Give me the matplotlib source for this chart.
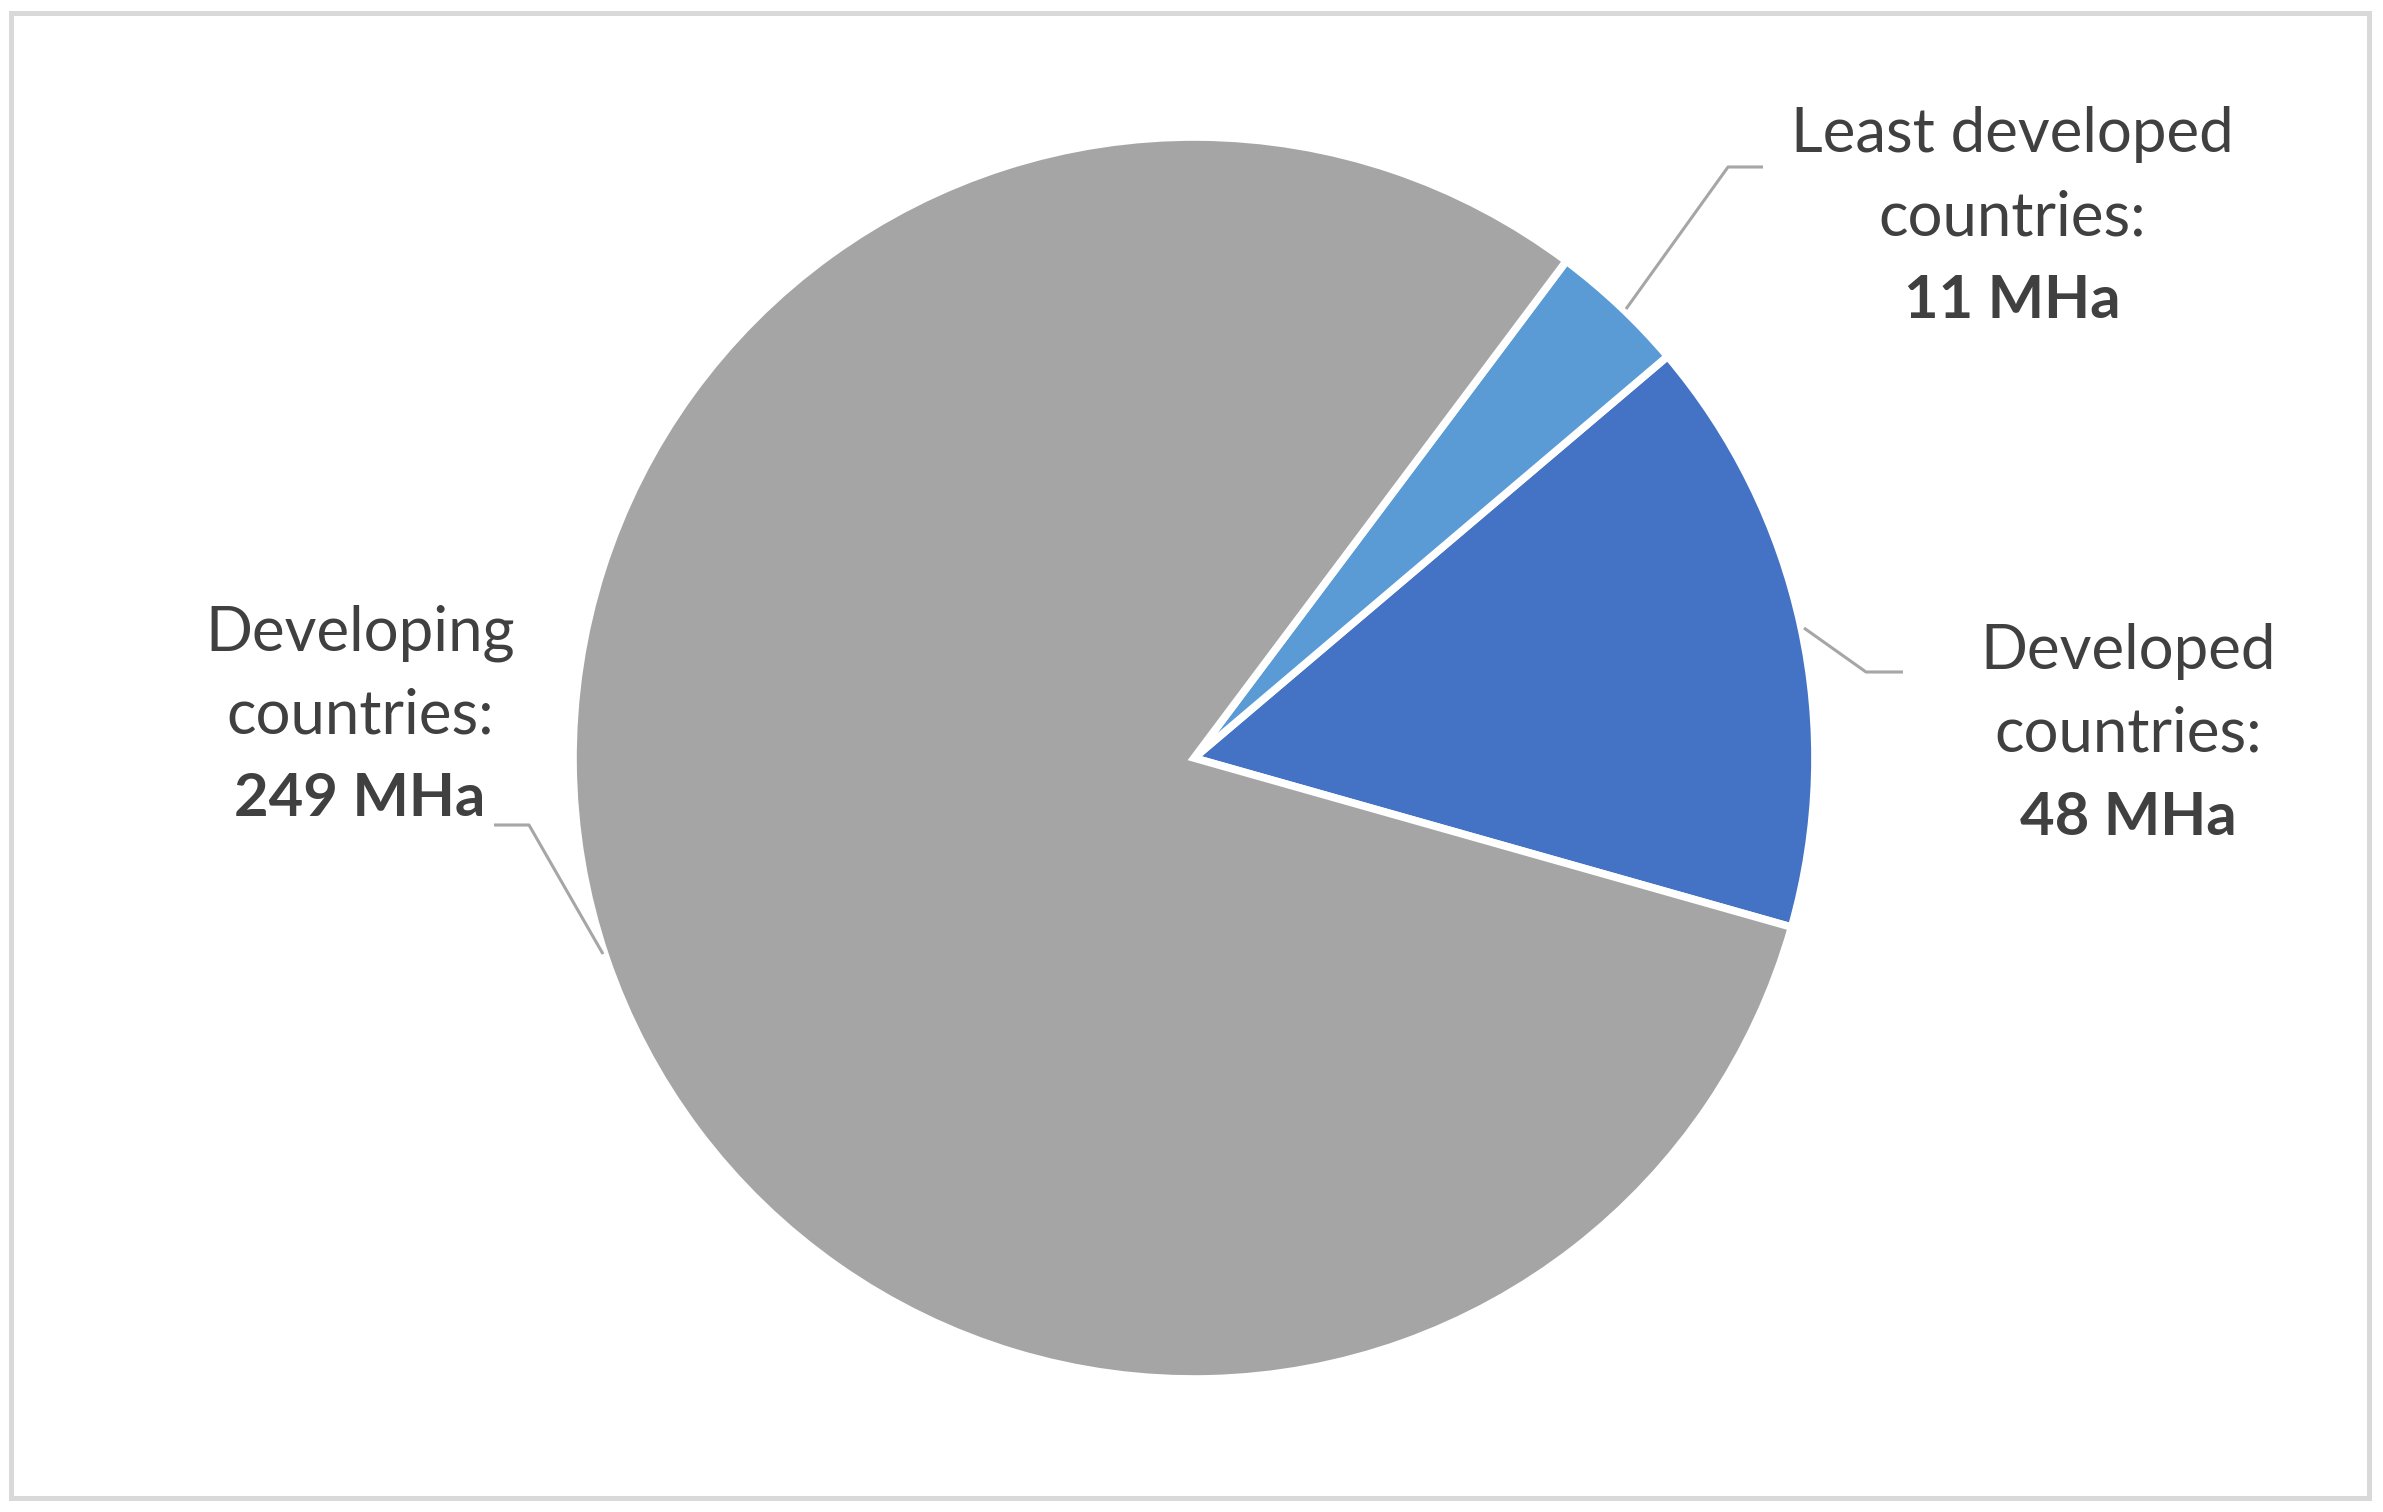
import matplotlib.pyplot as plt
from matplotlib.patches import Rectangle

# canvas in pixels, y measured upwards
W, H = 2383, 1512

regions = ['Developed countries', 'Least developed countries', 'Developing countries']
area_mha = [48, 11, 249]
colors = ['#4472C4', '#5B9BD5', '#A5A5A5']

# label anchors (x centre, baseline of first line) and leader lines, in image pixels
label_pos = [(2128, 669), (2012, 152), (360, 650)]
leaders = [
    [(1804, 628), (1866, 672), (1903, 672)],
    [(1626, 309), (1728, 167), (1763, 167)],
    [(603, 954), (529, 825), (494, 825)],
]
line_gap = 83

plt.rcParams['font.family'] = ['Lato', 'DejaVu Sans']
text_color = '#404040'

fig = plt.figure(figsize=(W / 100, H / 100), dpi=100)
ax = fig.add_axes([0, 0, 1, 1])

ax.pie(area_mha, colors=colors, startangle=-15.8, counterclock=True,
       center=(1194, H - 758), radius=621, frame=True,
       wedgeprops=dict(edgecolor='white', linewidth=5.5))
ax.set_xlim(0, W)
ax.set_ylim(0, H)
ax.axis('off')

for name, val, (x, y), pts in zip(regions, area_mha, label_pos, leaders):
    first, second = name.rsplit(' ', 1)
    ax.text(x, H - y, first, ha='center', va='baseline', fontsize=44.5, color=text_color)
    ax.text(x, H - y - line_gap, second + ':', ha='center', va='baseline', fontsize=44.5, color=text_color)
    ax.text(x, H - y - 2 * line_gap, f'{val} MHa', ha='center', va='baseline', fontsize=43,
            fontweight='bold', color=text_color)
    ax.plot([p[0] for p in pts], [H - p[1] for p in pts], color='#A6A6A6', linewidth=2.2,
            solid_capstyle='butt')

# light chart-area border
fig.patches.append(Rectangle((10.5 / W, 1 - 1497.5 / H), 2358 / W, 1485 / H,
                             transform=fig.transFigure, fill=False,
                             edgecolor='#D9D9D9', linewidth=3.6))

plt.savefig('out.png', dpi=100)
